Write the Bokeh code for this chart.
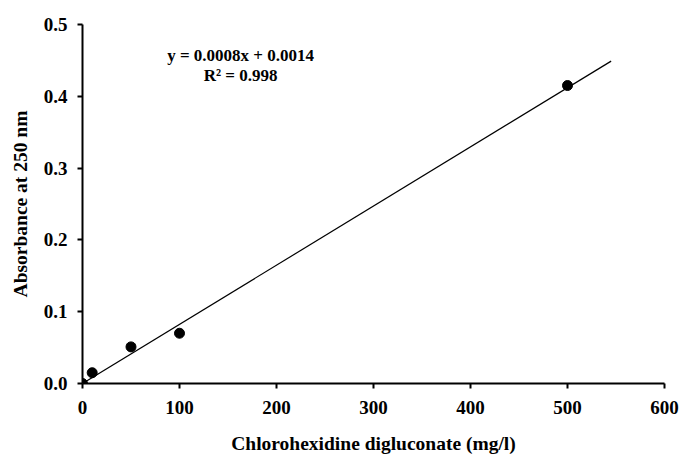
from bokeh.plotting import figure
from bokeh.models import Range1d, FixedTicker, Label, CustomJSTickFormatter
from bokeh.embed import file_html
from bokeh.resources import INLINE

# data
conc = [0, 10, 50, 100, 500]
absorb = [0.000, 0.015, 0.051, 0.070, 0.415]
trend_x = [0, 545]
trend_y = [0.000, 0.449]
x_ticks = [0, 100, 200, 300, 400, 500, 600]
y_ticks = [0.0, 0.1, 0.2, 0.3, 0.4, 0.5]
eq_text = "y = 0.0008x + 0.0014"
r2_text = "R\u00b2 = 0.998"

FONT = "Liberation Serif"

p = figure(width=679, height=456, output_backend="svg", toolbar_location=None,
           x_range=Range1d(0, 600), y_range=Range1d(0, 0.5),
           min_border_left=82, min_border_right=15, min_border_top=24, min_border_bottom=73)
p.background_fill_color = "white"
p.border_fill_color = "white"
p.outline_line_color = None
p.xgrid.visible = False
p.ygrid.visible = False

p.line(trend_x, trend_y, line_color="black", line_width=1.2)
p.scatter(conc, absorb, size=10, marker="circle", fill_color="black", line_color="black")

for ax in (p.xaxis[0], p.yaxis[0]):
    ax.axis_line_width = 2
    ax.axis_line_color = "black"
    ax.major_tick_line_width = 2
    ax.major_tick_out = 5
    ax.major_tick_in = 0
    ax.minor_tick_line_color = None
    ax.major_label_text_font = FONT
    ax.major_label_text_font_style = "bold"
    ax.major_label_text_font_size = "19px"
    ax.major_label_text_color = "black"
    ax.axis_label_text_font = FONT
    ax.axis_label_text_font_style = "bold"
    ax.axis_label_text_font_size = "19.5px"
    ax.axis_label_text_color = "black"

p.xaxis.ticker = FixedTicker(ticks=x_ticks)
p.yaxis.ticker = FixedTicker(ticks=y_ticks)
p.yaxis.formatter = CustomJSTickFormatter(code="return tick.toFixed(1);")
p.xaxis.axis_label = "Chlorohexidine digluconate (mg/l)"
p.yaxis.axis_label = "Absorbance at 250 nm"
p.xaxis.major_label_standoff = 12
p.yaxis.major_label_standoff = 10
p.xaxis.axis_label_standoff = 16
p.yaxis.axis_label_standoff = 10

p.add_layout(Label(x=163, y=0.457, text=eq_text, text_align="center", text_baseline="middle",
                   text_font=FONT, text_font_style="bold", text_font_size="17px", text_color="black"))
p.add_layout(Label(x=163, y=0.429, text=r2_text, text_align="center", text_baseline="middle",
                   text_font=FONT, text_font_style="bold", text_font_size="17px", text_color="black"))

open("out.html", "w").write(file_html(p, INLINE))
